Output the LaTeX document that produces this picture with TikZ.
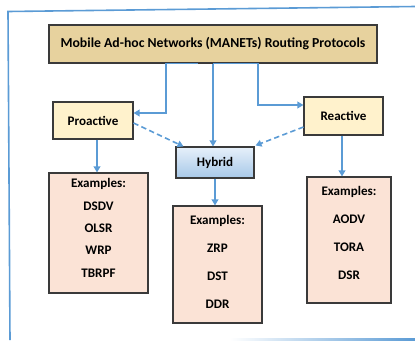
\documentclass[tikz,border=0pt]{standalone}
\usepackage{fontspec}
\setmainfont{Carlito}
\usetikzlibrary{arrows.meta,calc}
\definecolor{lineblue}{HTML}{5B9BD5}
\definecolor{tanfill}{HTML}{E7D29E}
\definecolor{profill}{HTML}{FFF2CC}
\definecolor{exfill}{HTML}{FBE3D6}
\definecolor{hybtop}{HTML}{E6F0FA}
\definecolor{hybbot}{HTML}{A7C8E8}
\definecolor{edge}{HTML}{3A3A3A}
\tikzset{
  box/.style={draw=edge, line width=0.8pt, inner sep=0pt, font=\bfseries\fontsize{9.8}{11}\selectfont},
  conn/.style={draw=lineblue, line width=1.2pt, -{Triangle[length=4.5pt,width=5pt]}},
  dconn/.style={conn, dash pattern=on 4pt off 2.5pt},
  lbl/.style={font=\bfseries\fontsize{9.8}{11}\selectfont, inner sep=0pt, anchor=center}
}
\begin{document}
\begin{tikzpicture}[x=0.75pt,y=-0.75pt]
\useasboundingbox (0,0) rectangle (415,340);
% frame
\draw[lineblue, line width=1.2pt] (415,6.5) -- (8,11.5) -- (10,340);
\shade[left color=white, right color=lineblue] (230,338.3) rectangle (415,340);
% nodes
\node[box, fill=tanfill, minimum width=328*0.75pt, minimum height=38*0.75pt,
      font=\bfseries\fontsize{10.3}{12}\selectfont] (title) at (213,44)
      {Mobile Ad-hoc Networks (MANETs) Routing Protocols};
\node[box, fill=profill, minimum width=80*0.75pt, minimum height=37*0.75pt] (pro) at (93,120.5) {Proactive};
\node[box, fill=profill, minimum width=79*0.75pt, minimum height=38*0.75pt] (rea) at (343.5,116) {Reactive};
\node[box, top color=hybtop, bottom color=hybbot, minimum width=78*0.75pt, minimum height=31*0.75pt] (hyb) at (215,162.5) {Hybrid};
\node[box, fill=exfill, minimum width=99*0.75pt, minimum height=120*0.75pt] (exl) at (98.5,233) {};
\node[box, fill=exfill, minimum width=89*0.75pt, minimum height=117*0.75pt] (exm) at (217.5,264.5) {};
\node[box, fill=exfill, minimum width=84*0.75pt, minimum height=126*0.75pt] (exr) at (349,240) {};
% example texts
\node[lbl] (exl0) at (98.5,184) {Examples:};
\node[lbl] (exl1) at (98.5,206) {DSDV};
\node[lbl] (exl2) at (98.5,228) {OLSR};
\node[lbl] (exl3) at (98.5,250) {WRP};
\node[lbl] (exl4) at (98.5,273) {TBRPF};
\node[lbl] (exm0) at (217.5,221) {Examples:};
\node[lbl] (exm1) at (217.5,248) {ZRP};
\node[lbl] (exm2) at (217.5,276) {DST};
\node[lbl] (exm3) at (217.5,304) {DDR};
\node[lbl] (exr0) at (349,192) {Examples:};
\node[lbl] (exr1) at (349,219) {AODV};
\node[lbl] (exr2) at (349,247) {TORA};
\node[lbl] (exr3) at (349,275) {DSR};
% connectors
\draw[conn] ($(title.south)+(-15,0)$) -- ++(-32,0) |- ($(pro.east)+(0,-7.5)$);
\draw[conn] (title.south) -- ++(45,0) |- ($(rea.west)+(0,-11)$);
\draw[conn] (title.south) -- (title.south |- hyb.north);
\draw[dconn] ($(pro.east)+(0,2.5)$) -- ($(hyb.north west)+(8,0)$);
\draw[dconn] ($(rea.west)+(0,11)$) -- ($(hyb.north east)+(1,-1)$);
\draw[conn] ($(pro.south)+(4,0)$) -- ($(pro.south |- exl.north)+(4,0)$);
\draw[conn] (hyb.south) -- (hyb.south |- exm.north);
\draw[conn] ($(rea.south)+(-1.5,0)$) -- ($(rea.south |- exr.north)+(-1.5,0)$);
\end{tikzpicture}
\end{document}
